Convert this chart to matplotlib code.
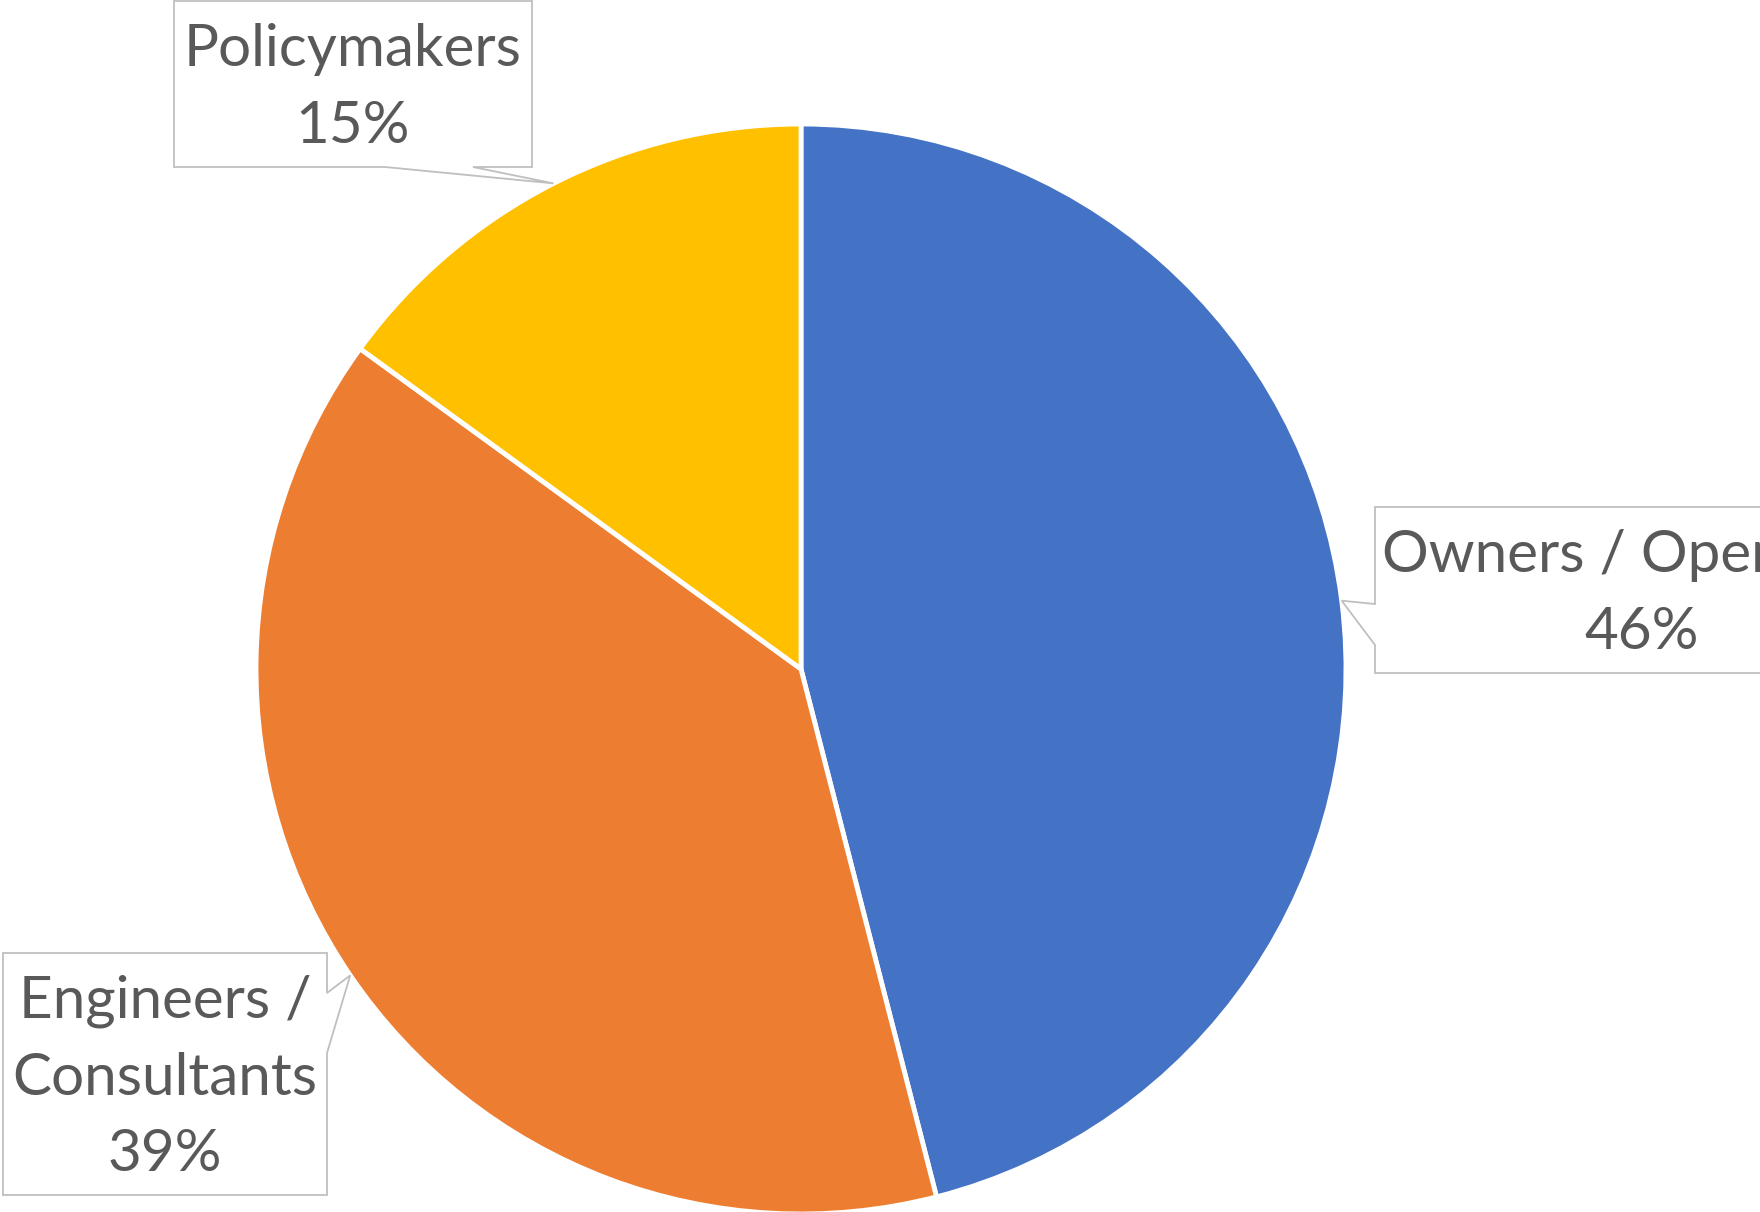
import numpy as np
import matplotlib.pyplot as plt
from matplotlib.patches import Polygon

groups = ["Owners / Operators", "Engineers /\nConsultants", "Policymakers"]
shares = [46, 39, 15]
colors = ["#4472C4", "#ED7D31", "#FFC000"]

W, H = 1760, 1212
fig = plt.figure(figsize=(W / 100, H / 100), dpi=100)
ax = fig.add_axes([0, 0, 1, 1])

cx, cy, r = 801, 543, 545
wedges, _ = ax.pie(shares, colors=colors, startangle=90, counterclock=False,
                   center=(cx, cy), radius=r, frame=True,
                   wedgeprops=dict(edgecolor="white", linewidth=3.5))
ax.set_xlim(0, W)
ax.set_ylim(0, H)
ax.set_aspect("equal")
ax.axis("off")

# callout boxes: (left, top, right, bottom) in image pixels, side of the notch, notch span
boxes = [
    ((1375, 507, 1960, 673), "left", (604, 645)),
    ((3, 953, 327, 1195), "right", (993, 1053)),
    ((174, 1, 532, 167), "bottom", (385, 473)),
]

for w, val, name, (box, side, span) in zip(wedges, shares, groups, boxes):
    mid = np.deg2rad((w.theta1 + w.theta2) / 2)
    tip = (cx + r * np.cos(mid), cy + r * np.sin(mid))
    x0, t, x1, b = box
    y0, y1 = H - b, H - t
    if side == "left":
        a, c = H - span[0], H - span[1]
        pts = [(x0, y1), (x1, y1), (x1, y0), (x0, y0), (x0, c), tip, (x0, a)]
    elif side == "right":
        a, c = H - span[0], H - span[1]
        pts = [(x0, y1), (x1, y1), (x1, a), tip, (x1, c), (x1, y0), (x0, y0)]
    else:
        pts = [(x0, y1), (x1, y1), (x1, y0), (span[1], y0), tip, (span[0], y0), (x0, y0)]
    ax.add_patch(Polygon(pts, closed=True, facecolor="white", edgecolor="#BFBFBF",
                         linewidth=1.3, zorder=3))
    tx = 1642 if side == "left" else (x0 + x1) / 2
    ax.text(tx, (y0 + y1) / 2 - 4, f"{name}\n{val}%", ha="center", va="center",
            fontsize=42, family="Lato", color="#595959", linespacing=1.55, zorder=4)

fig.savefig("out.png", dpi=100)
